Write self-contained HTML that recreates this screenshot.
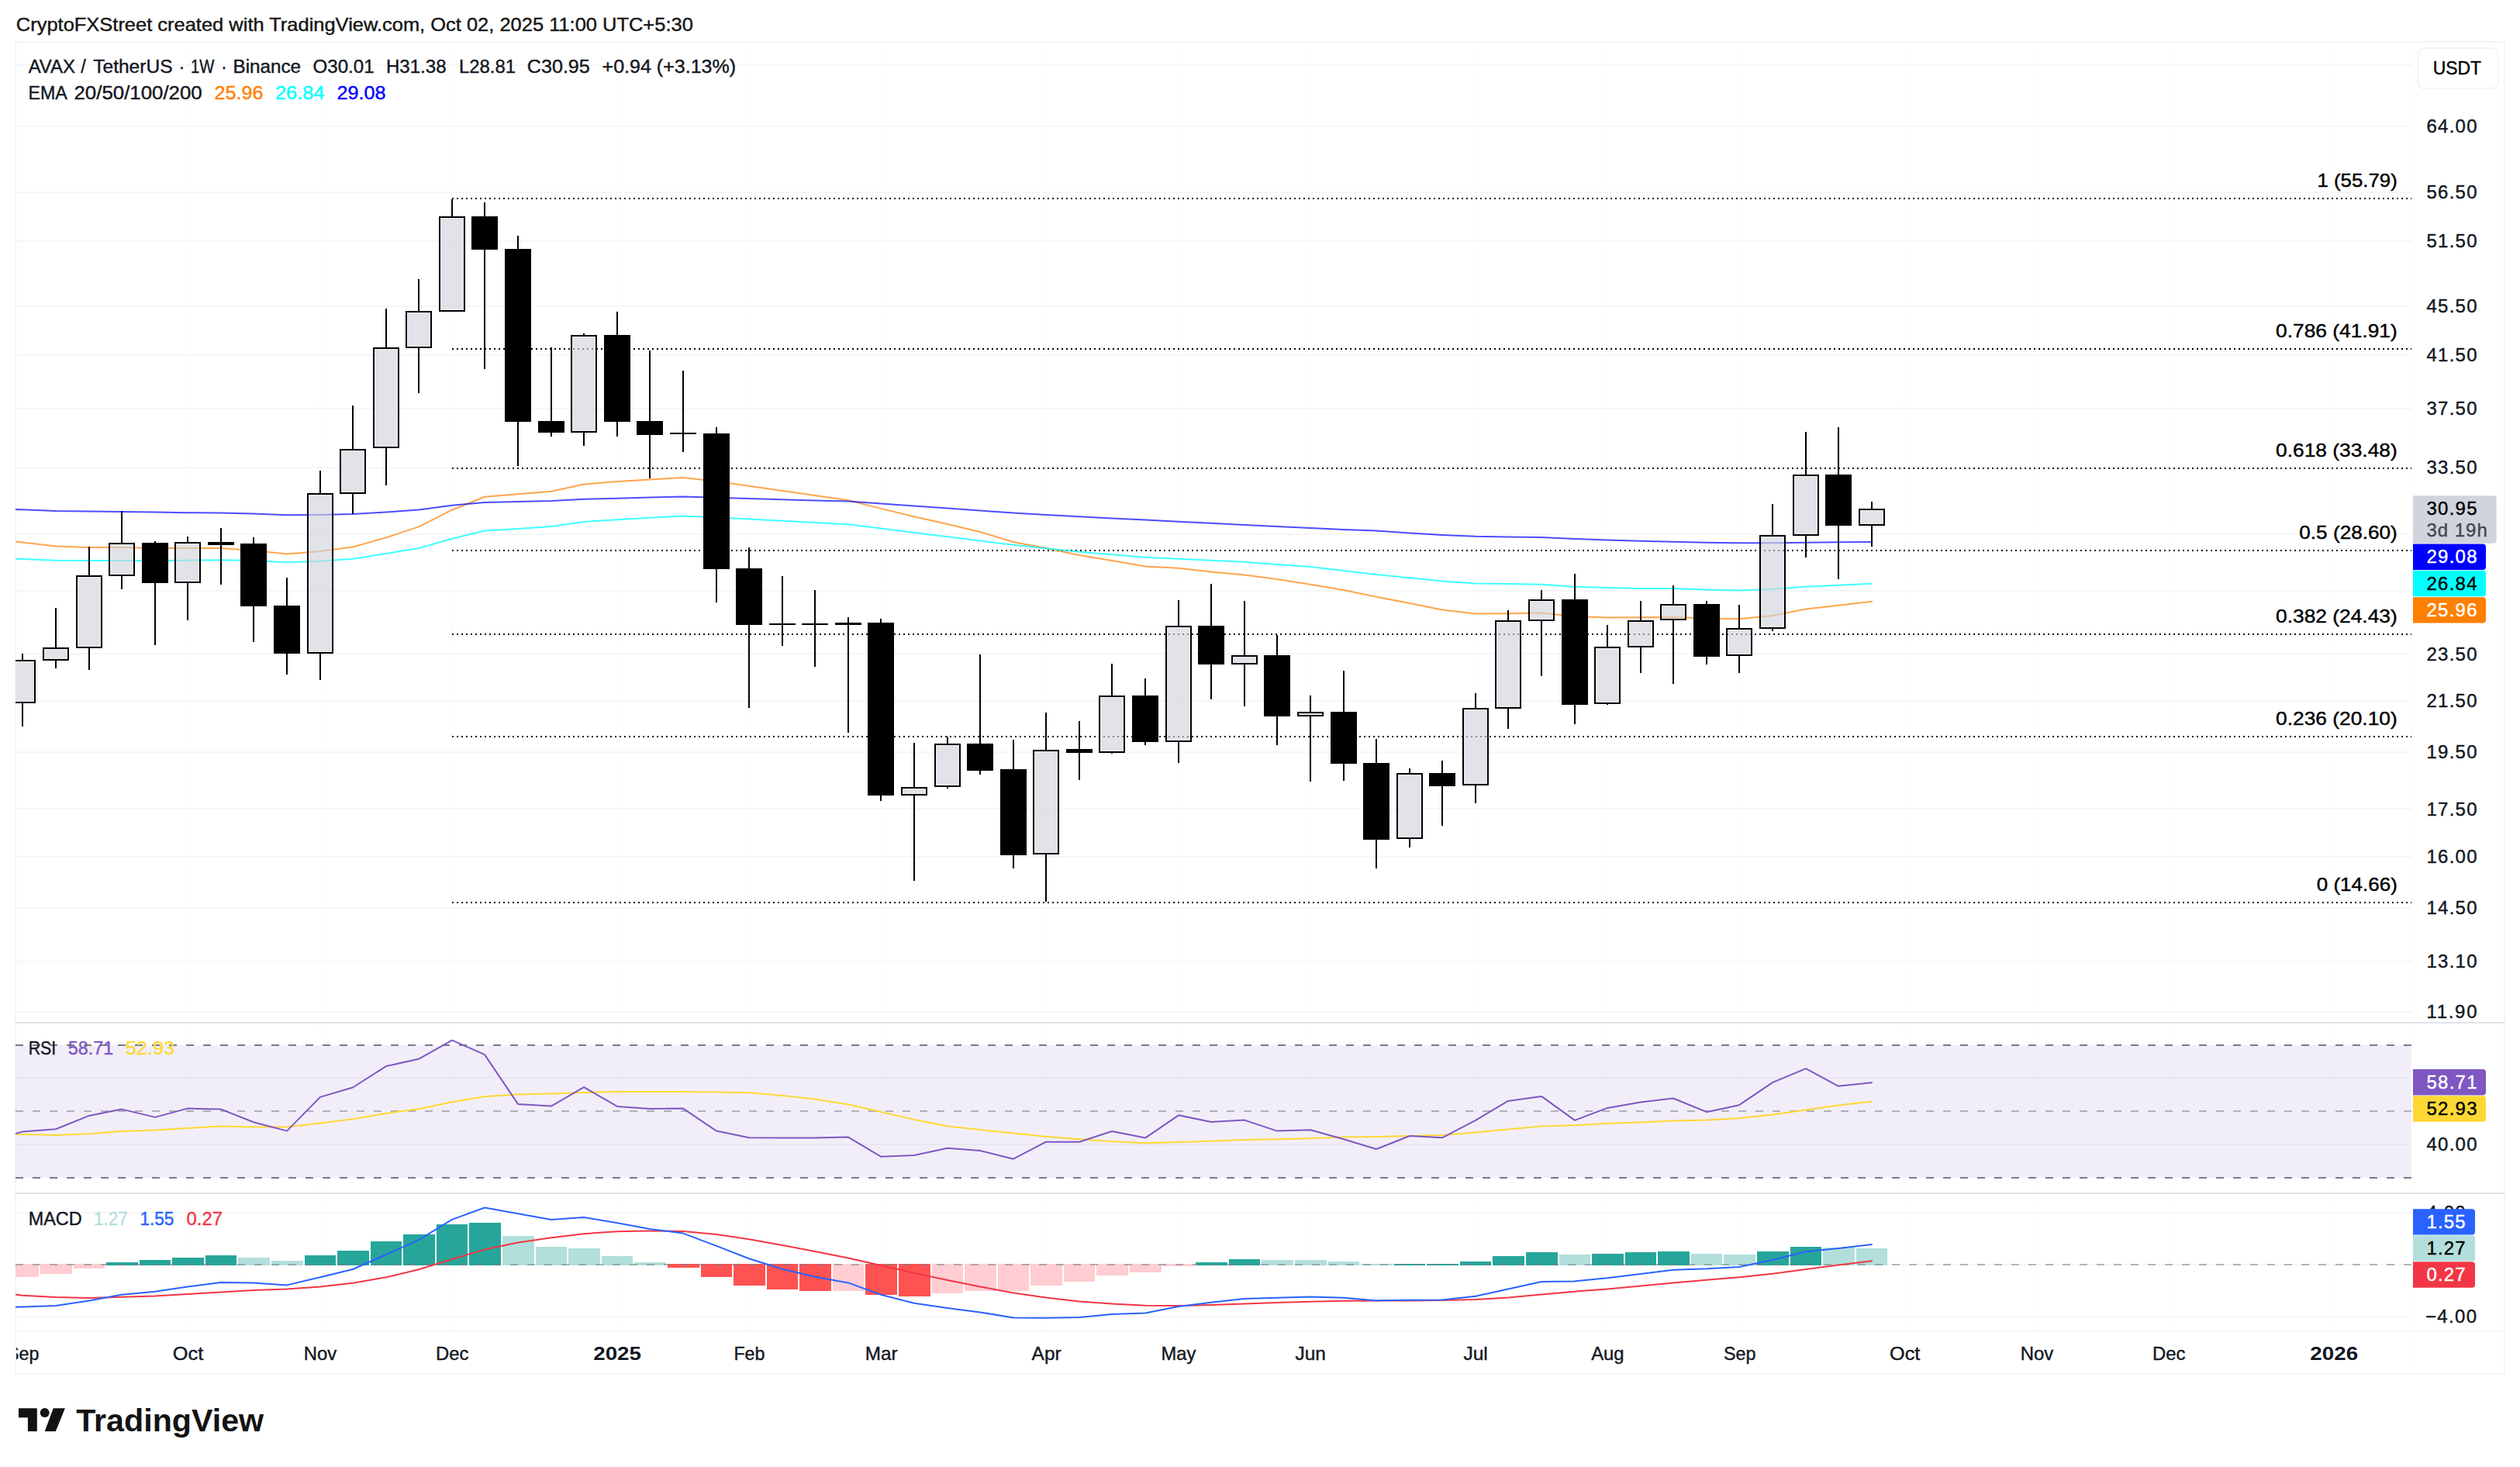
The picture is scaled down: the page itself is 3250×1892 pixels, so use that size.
<!DOCTYPE html>
<html lang="en"><head><meta charset="utf-8"><title>AVAX / TetherUS chart</title>
<style>html,body{margin:0;padding:0;background:#fff}body{width:3250px;height:1892px;overflow:hidden;font-family:"Liberation Sans", Arial, sans-serif}svg{display:block}</style>
</head><body>
<svg width="3250" height="1892" viewBox="0 0 3250 1892" font-family='"Liberation Sans", Arial, sans-serif' shape-rendering="auto">
<rect x="0" y="0" width="3250" height="1892" fill="#ffffff"/>
<text x="20.8" y="40.3" font-size="24" textLength="873" lengthAdjust="spacingAndGlyphs" fill="#151515" stroke="#151515" stroke-width="0.4">CryptoFXStreet created with TradingView.com, Oct 02, 2025 11:00 UTC+5:30</text>
<g fill="rgba(42,46,57,0.045)">
<rect x="20" y="83" width="3090" height="2"/>
<rect x="20" y="162" width="3090" height="2"/>
<rect x="20" y="247" width="3090" height="2"/>
<rect x="20" y="310" width="3090" height="2"/>
<rect x="20" y="394" width="3090" height="2"/>
<rect x="20" y="457" width="3090" height="2"/>
<rect x="20" y="526" width="3090" height="2"/>
<rect x="20" y="602" width="3090" height="2"/>
<rect x="20" y="688" width="3090" height="2"/>
<rect x="20" y="761" width="3090" height="2"/>
<rect x="20" y="842" width="3090" height="2"/>
<rect x="20" y="903" width="3090" height="2"/>
<rect x="20" y="969" width="3090" height="2"/>
<rect x="20" y="1042" width="3090" height="2"/>
<rect x="20" y="1104" width="3090" height="2"/>
<rect x="20" y="1170" width="3090" height="2"/>
<rect x="20" y="1239" width="3090" height="2"/>
<rect x="20" y="1304" width="3090" height="2"/>
<rect x="20" y="1389" width="3090" height="2"/>
<rect x="20" y="1475" width="3090" height="2"/>
<rect x="20" y="1563" width="3090" height="2"/>
<rect x="20" y="1630" width="3090" height="2"/>
<rect x="20" y="1697" width="3090" height="2"/>
<rect x="20" y="1716" width="3210" height="2"/>
</g>
<g fill="rgba(42,46,57,0.013)">
<rect x="28" y="54" width="2" height="1663"/>
<rect x="241" y="54" width="2" height="1663"/>
<rect x="412" y="54" width="2" height="1663"/>
<rect x="582" y="54" width="2" height="1663"/>
<rect x="795" y="54" width="2" height="1663"/>
<rect x="965" y="54" width="2" height="1663"/>
<rect x="1135" y="54" width="2" height="1663"/>
<rect x="1348" y="54" width="2" height="1663"/>
<rect x="1519" y="54" width="2" height="1663"/>
<rect x="1689" y="54" width="2" height="1663"/>
<rect x="1902" y="54" width="2" height="1663"/>
<rect x="2072" y="54" width="2" height="1663"/>
<rect x="2242" y="54" width="2" height="1663"/>
<rect x="2455" y="54" width="2" height="1663"/>
<rect x="2626" y="54" width="2" height="1663"/>
<rect x="2796" y="54" width="2" height="1663"/>
<rect x="3009" y="54" width="2" height="1663"/>
<rect x="3110" y="54" width="2" height="1718"/>
</g>
<rect x="20" y="54" width="3210" height="1718" fill="none" stroke="#f5f5f6" stroke-width="2"/>
<rect x="20" y="1348" width="3090" height="171" fill="rgb(126,87,194)" fill-opacity="0.1"/>
<g stroke="#e0e3eb" stroke-width="2"><line x1="20" y1="1319" x2="3230" y2="1319"/><line x1="20" y1="1539" x2="3230" y2="1539"/></g>
<clipPath id="cp"><rect x="20" y="54" width="3091" height="1718"/></clipPath>
<g clip-path="url(#cp)">
<g stroke-width="2" stroke-dasharray="10 12" fill="none">
<line x1="20" y1="1348" x2="3110" y2="1348" stroke="#787b86"/>
<line x1="20" y1="1433" x2="3110" y2="1433" stroke="#787b86" stroke-opacity="0.55"/>
<line x1="20" y1="1519" x2="3110" y2="1519" stroke="#787b86"/>
</g>
<g stroke="#000" stroke-width="2" stroke-dasharray="2 4">
<line x1="583" y1="256.0" x2="3110" y2="256.0"/>
<line x1="583" y1="450.0" x2="3110" y2="450.0"/>
<line x1="583" y1="604.0" x2="3110" y2="604.0"/>
<line x1="583" y1="710.0" x2="3110" y2="710.0"/>
<line x1="583" y1="818.0" x2="3110" y2="818.0"/>
<line x1="583" y1="950.0" x2="3110" y2="950.0"/>
<line x1="583" y1="1164.0" x2="3110" y2="1164.0"/>
</g>
<rect x="9" y="1630" width="41" height="17" fill="#ffcdd2"/>
<rect x="52" y="1630" width="41" height="13" fill="#ffcdd2"/>
<rect x="95" y="1630" width="40" height="6" fill="#ffcdd2"/>
<rect x="137" y="1628" width="41" height="4" fill="#26a69a"/>
<rect x="180" y="1625" width="40" height="7" fill="#26a69a"/>
<rect x="222" y="1622" width="41" height="10" fill="#26a69a"/>
<rect x="265" y="1619" width="40" height="13" fill="#26a69a"/>
<rect x="307" y="1622" width="41" height="10" fill="#b2dfdb"/>
<rect x="350" y="1626" width="41" height="6" fill="#b2dfdb"/>
<rect x="393" y="1619" width="40" height="13" fill="#26a69a"/>
<rect x="435" y="1613" width="41" height="19" fill="#26a69a"/>
<rect x="478" y="1601" width="40" height="31" fill="#26a69a"/>
<rect x="520" y="1592" width="41" height="40" fill="#26a69a"/>
<rect x="563" y="1579" width="40" height="53" fill="#26a69a"/>
<rect x="605" y="1577" width="41" height="55" fill="#26a69a"/>
<rect x="648" y="1594" width="41" height="38" fill="#b2dfdb"/>
<rect x="691" y="1608" width="40" height="24" fill="#b2dfdb"/>
<rect x="733" y="1610" width="41" height="22" fill="#b2dfdb"/>
<rect x="776" y="1620" width="40" height="12" fill="#b2dfdb"/>
<rect x="818" y="1628" width="41" height="4" fill="#b2dfdb"/>
<rect x="861" y="1630" width="41" height="5" fill="#ff5252"/>
<rect x="904" y="1630" width="40" height="17" fill="#ff5252"/>
<rect x="946" y="1630" width="41" height="28" fill="#ff5252"/>
<rect x="989" y="1630" width="40" height="33" fill="#ff5252"/>
<rect x="1031" y="1630" width="41" height="35" fill="#ff5252"/>
<rect x="1074" y="1630" width="40" height="35" fill="#ffcdd2"/>
<rect x="1116" y="1630" width="41" height="40" fill="#ff5252"/>
<rect x="1159" y="1630" width="41" height="42" fill="#ff5252"/>
<rect x="1202" y="1630" width="40" height="38" fill="#ffcdd2"/>
<rect x="1244" y="1630" width="41" height="35" fill="#ffcdd2"/>
<rect x="1287" y="1630" width="40" height="35" fill="#ffcdd2"/>
<rect x="1329" y="1630" width="41" height="28" fill="#ffcdd2"/>
<rect x="1372" y="1630" width="40" height="23" fill="#ffcdd2"/>
<rect x="1414" y="1630" width="41" height="15" fill="#ffcdd2"/>
<rect x="1457" y="1630" width="41" height="11" fill="#ffcdd2"/>
<rect x="1500" y="1630" width="40" height="3" fill="#ffcdd2"/>
<rect x="1542" y="1628" width="41" height="4" fill="#26a69a"/>
<rect x="1585" y="1624" width="40" height="8" fill="#26a69a"/>
<rect x="1627" y="1625" width="41" height="7" fill="#b2dfdb"/>
<rect x="1670" y="1625" width="41" height="7" fill="#b2dfdb"/>
<rect x="1713" y="1627" width="40" height="5" fill="#b2dfdb"/>
<rect x="1755" y="1630" width="41" height="2" fill="#b2dfdb"/>
<rect x="1798" y="1630" width="40" height="2" fill="#26a69a"/>
<rect x="1840" y="1630" width="41" height="2" fill="#26a69a"/>
<rect x="1883" y="1627" width="40" height="5" fill="#26a69a"/>
<rect x="1925" y="1620" width="41" height="12" fill="#26a69a"/>
<rect x="1968" y="1615" width="41" height="17" fill="#26a69a"/>
<rect x="2011" y="1618" width="40" height="14" fill="#b2dfdb"/>
<rect x="2053" y="1617" width="41" height="15" fill="#26a69a"/>
<rect x="2096" y="1615" width="40" height="17" fill="#26a69a"/>
<rect x="2138" y="1614" width="41" height="18" fill="#26a69a"/>
<rect x="2181" y="1617" width="40" height="15" fill="#b2dfdb"/>
<rect x="2223" y="1618" width="41" height="14" fill="#b2dfdb"/>
<rect x="2266" y="1614" width="41" height="18" fill="#26a69a"/>
<rect x="2309" y="1608" width="40" height="24" fill="#26a69a"/>
<rect x="2351" y="1609" width="41" height="23" fill="#b2dfdb"/>
<rect x="2394" y="1610" width="40" height="22" fill="#b2dfdb"/>
<line x1="20" y1="1631" x2="3110" y2="1631" stroke="#787b86" stroke-opacity="0.55" stroke-width="2" stroke-dasharray="10 12"/>
<polyline points="20,698.6 29,699.6 72,704.6 115,706.0 157,706.0 200,707.0 242,707.0 285,707.0 327,710.0 370,714.6 413,711.0 455,705.5 498,693.4 540,679.4 583,657.7 625,640.8 668,637.3 711,633.8 753,624.6 796,621.1 838,618.6 881,616.1 924,620.7 966,626.8 1009,633.0 1051,639.0 1094,645.2 1136,655.9 1179,666.3 1222,675.9 1264,686.0 1307,699.0 1349,707.0 1392,716.0 1434,723.0 1477,730.4 1520,732.7 1562,737.4 1605,741.4 1647,747.1 1690,753.8 1733,761.0 1775,769.8 1818,778.0 1860,786.5 1903,791.5 1945,791.2 1988,790.5 2031,794.9 2073,796.5 2116,796.2 2158,795.9 2201,797.5 2243,798.2 2286,793.9 2329,785.5 2371,780.8 2414,775.8" fill="none" stroke="#ff7f00" stroke-opacity="0.7" stroke-width="2" stroke-linejoin="round" stroke-linecap="round"/>
<polyline points="20,720.7 29,721.0 72,722.7 115,723.0 157,723.0 200,723.0 242,722.7 285,722.3 327,723.0 370,725.3 413,723.7 455,720.7 498,714.0 540,707.0 583,694.7 625,684.5 668,681.9 711,678.9 753,672.9 796,670.2 838,667.7 881,665.5 924,667.2 966,669.5 1009,671.7 1051,674.0 1094,676.3 1136,681.6 1179,687.0 1222,692.2 1264,697.4 1307,702.7 1349,707.2 1392,711.7 1434,715.2 1477,718.7 1520,720.7 1562,722.7 1605,724.7 1647,728.0 1690,731.0 1733,736.0 1775,741.0 1818,745.2 1860,749.4 1903,752.4 1945,753.1 1988,753.8 2031,756.8 2073,757.9 2116,759.0 2158,759.0 2201,760.5 2243,761.5 2286,759.8 2329,756.8 2371,754.8 2414,752.8" fill="none" stroke="#00ffff" stroke-opacity="0.75" stroke-width="2" stroke-linejoin="round" stroke-linecap="round"/>
<polyline points="20,656.9 29,657.2 72,658.9 115,659.5 157,659.9 200,660.5 242,661.2 285,661.5 327,662.5 370,664.2 413,663.9 455,662.9 498,660.5 540,657.5 583,651.7 625,648.0 668,647.0 711,646.0 753,643.8 796,642.8 838,641.5 881,640.5 924,641.8 966,643.0 1009,644.3 1051,645.5 1094,646.5 1136,649.5 1179,652.5 1222,655.5 1264,658.5 1307,661.6 1349,664.0 1392,666.3 1434,668.5 1477,670.6 1520,672.7 1562,674.8 1605,676.9 1647,679.0 1690,681.0 1733,683.0 1775,684.6 1818,687.5 1860,690.0 1903,691.7 1945,692.4 1988,693.0 2031,695.0 2073,696.4 2116,697.7 2158,698.7 2201,699.7 2243,700.3 2286,700.3 2329,699.7 2371,699.3 2414,699.0" fill="none" stroke="#0000ff" stroke-opacity="0.7" stroke-width="2" stroke-linejoin="round" stroke-linecap="round"/>
<rect x="28" y="843" width="2" height="8" fill="#000"/>
<rect x="28" y="907" width="2" height="30" fill="#000"/>
<rect x="13" y="852" width="32" height="54" fill="rgb(209,212,220)" fill-opacity="0.3" stroke="#000" stroke-width="2"/>
<rect x="14.5" y="853.5" width="29" height="51" fill="rgb(209,212,220)" fill-opacity="0.5"/>
<rect x="71" y="784" width="2" height="51" fill="#000"/>
<rect x="71" y="852" width="2" height="10" fill="#000"/>
<rect x="56" y="836" width="32" height="15" fill="rgb(209,212,220)" fill-opacity="0.3" stroke="#000" stroke-width="2"/>
<rect x="57.5" y="837.5" width="29" height="12" fill="rgb(209,212,220)" fill-opacity="0.5"/>
<rect x="114" y="705" width="2" height="37" fill="#000"/>
<rect x="114" y="836" width="2" height="28" fill="#000"/>
<rect x="99" y="743" width="32" height="92" fill="rgb(209,212,220)" fill-opacity="0.3" stroke="#000" stroke-width="2"/>
<rect x="100.5" y="744.5" width="29" height="89" fill="rgb(209,212,220)" fill-opacity="0.5"/>
<rect x="156" y="659" width="2" height="41" fill="#000"/>
<rect x="156" y="743" width="2" height="17" fill="#000"/>
<rect x="141" y="701" width="32" height="41" fill="rgb(209,212,220)" fill-opacity="0.3" stroke="#000" stroke-width="2"/>
<rect x="142.5" y="702.5" width="29" height="38" fill="rgb(209,212,220)" fill-opacity="0.5"/>
<rect x="199" y="698" width="2" height="134" fill="#000"/>
<rect x="183" y="700" width="34" height="52" fill="#000"/>
<rect x="241" y="692" width="2" height="7" fill="#000"/>
<rect x="241" y="752" width="2" height="48" fill="#000"/>
<rect x="226" y="700" width="32" height="51" fill="rgb(209,212,220)" fill-opacity="0.3" stroke="#000" stroke-width="2"/>
<rect x="227.5" y="701.5" width="29" height="48" fill="rgb(209,212,220)" fill-opacity="0.5"/>
<rect x="284" y="681" width="2" height="73" fill="#000"/>
<rect x="268" y="699" width="34" height="4" fill="#000"/>
<rect x="326" y="693" width="2" height="135" fill="#000"/>
<rect x="310" y="701" width="34" height="81" fill="#000"/>
<rect x="369" y="745" width="2" height="125" fill="#000"/>
<rect x="353" y="781" width="34" height="62" fill="#000"/>
<rect x="412" y="607" width="2" height="29" fill="#000"/>
<rect x="412" y="843" width="2" height="34" fill="#000"/>
<rect x="397" y="637" width="32" height="205" fill="rgb(209,212,220)" fill-opacity="0.3" stroke="#000" stroke-width="2"/>
<rect x="398.5" y="638.5" width="29" height="202" fill="rgb(209,212,220)" fill-opacity="0.5"/>
<rect x="454" y="523" width="2" height="56" fill="#000"/>
<rect x="454" y="637" width="2" height="26" fill="#000"/>
<rect x="439" y="580" width="32" height="56" fill="rgb(209,212,220)" fill-opacity="0.3" stroke="#000" stroke-width="2"/>
<rect x="440.5" y="581.5" width="29" height="53" fill="rgb(209,212,220)" fill-opacity="0.5"/>
<rect x="497" y="398" width="2" height="50" fill="#000"/>
<rect x="497" y="578" width="2" height="48" fill="#000"/>
<rect x="482" y="449" width="32" height="128" fill="rgb(209,212,220)" fill-opacity="0.3" stroke="#000" stroke-width="2"/>
<rect x="483.5" y="450.5" width="29" height="125" fill="rgb(209,212,220)" fill-opacity="0.5"/>
<rect x="539" y="360" width="2" height="41" fill="#000"/>
<rect x="539" y="449" width="2" height="58" fill="#000"/>
<rect x="524" y="402" width="32" height="46" fill="rgb(209,212,220)" fill-opacity="0.3" stroke="#000" stroke-width="2"/>
<rect x="525.5" y="403.5" width="29" height="43" fill="rgb(209,212,220)" fill-opacity="0.5"/>
<rect x="582" y="257" width="2" height="22" fill="#000"/>
<rect x="582" y="402" width="2" height="0" fill="#000"/>
<rect x="567" y="280" width="32" height="121" fill="rgb(209,212,220)" fill-opacity="0.3" stroke="#000" stroke-width="2"/>
<rect x="568.5" y="281.5" width="29" height="118" fill="rgb(209,212,220)" fill-opacity="0.5"/>
<rect x="624" y="261" width="2" height="215" fill="#000"/>
<rect x="608" y="279" width="34" height="43" fill="#000"/>
<rect x="667" y="304" width="2" height="297" fill="#000"/>
<rect x="651" y="321" width="34" height="223" fill="#000"/>
<rect x="710" y="448" width="2" height="115" fill="#000"/>
<rect x="694" y="543" width="34" height="15" fill="#000"/>
<rect x="752" y="430" width="2" height="2" fill="#000"/>
<rect x="752" y="558" width="2" height="17" fill="#000"/>
<rect x="737" y="433" width="32" height="124" fill="rgb(209,212,220)" fill-opacity="0.3" stroke="#000" stroke-width="2"/>
<rect x="738.5" y="434.5" width="29" height="121" fill="rgb(209,212,220)" fill-opacity="0.5"/>
<rect x="795" y="402" width="2" height="161" fill="#000"/>
<rect x="779" y="432" width="34" height="112" fill="#000"/>
<rect x="837" y="452" width="2" height="165" fill="#000"/>
<rect x="821" y="543" width="34" height="18" fill="#000"/>
<rect x="880" y="478" width="2" height="105" fill="#000"/>
<rect x="864" y="558" width="34" height="2" fill="#000"/>
<rect x="923" y="551" width="2" height="226" fill="#000"/>
<rect x="907" y="559" width="34" height="175" fill="#000"/>
<rect x="965" y="706" width="2" height="207" fill="#000"/>
<rect x="949" y="733" width="34" height="73" fill="#000"/>
<rect x="1008" y="743" width="2" height="90" fill="#000"/>
<rect x="992" y="804" width="34" height="2" fill="#000"/>
<rect x="1050" y="761" width="2" height="99" fill="#000"/>
<rect x="1034" y="804" width="34" height="2" fill="#000"/>
<rect x="1093" y="796" width="2" height="149" fill="#000"/>
<rect x="1077" y="803" width="34" height="3" fill="#000"/>
<rect x="1135" y="798" width="2" height="235" fill="#000"/>
<rect x="1119" y="803" width="34" height="223" fill="#000"/>
<rect x="1178" y="958" width="2" height="57" fill="#000"/>
<rect x="1178" y="1026" width="2" height="110" fill="#000"/>
<rect x="1163" y="1016" width="32" height="9" fill="rgb(209,212,220)" fill-opacity="0.3" stroke="#000" stroke-width="2"/>
<rect x="1164.5" y="1017.5" width="29" height="6" fill="rgb(209,212,220)" fill-opacity="0.5"/>
<rect x="1221" y="950" width="2" height="9" fill="#000"/>
<rect x="1221" y="1015" width="2" height="2" fill="#000"/>
<rect x="1206" y="960" width="32" height="54" fill="rgb(209,212,220)" fill-opacity="0.3" stroke="#000" stroke-width="2"/>
<rect x="1207.5" y="961.5" width="29" height="51" fill="rgb(209,212,220)" fill-opacity="0.5"/>
<rect x="1263" y="844" width="2" height="155" fill="#000"/>
<rect x="1247" y="959" width="34" height="35" fill="#000"/>
<rect x="1306" y="954" width="2" height="166" fill="#000"/>
<rect x="1290" y="992" width="34" height="111" fill="#000"/>
<rect x="1348" y="919" width="2" height="48" fill="#000"/>
<rect x="1348" y="1102" width="2" height="61" fill="#000"/>
<rect x="1333" y="968" width="32" height="133" fill="rgb(209,212,220)" fill-opacity="0.3" stroke="#000" stroke-width="2"/>
<rect x="1334.5" y="969.5" width="29" height="130" fill="rgb(209,212,220)" fill-opacity="0.5"/>
<rect x="1391" y="930" width="2" height="76" fill="#000"/>
<rect x="1375" y="966" width="34" height="5" fill="#000"/>
<rect x="1433" y="856" width="2" height="41" fill="#000"/>
<rect x="1433" y="971" width="2" height="1" fill="#000"/>
<rect x="1418" y="898" width="32" height="72" fill="rgb(209,212,220)" fill-opacity="0.3" stroke="#000" stroke-width="2"/>
<rect x="1419.5" y="899.5" width="29" height="69" fill="rgb(209,212,220)" fill-opacity="0.5"/>
<rect x="1476" y="875" width="2" height="86" fill="#000"/>
<rect x="1460" y="897" width="34" height="60" fill="#000"/>
<rect x="1519" y="774" width="2" height="33" fill="#000"/>
<rect x="1519" y="957" width="2" height="27" fill="#000"/>
<rect x="1504" y="808" width="32" height="148" fill="rgb(209,212,220)" fill-opacity="0.3" stroke="#000" stroke-width="2"/>
<rect x="1505.5" y="809.5" width="29" height="145" fill="rgb(209,212,220)" fill-opacity="0.5"/>
<rect x="1561" y="753" width="2" height="149" fill="#000"/>
<rect x="1545" y="807" width="34" height="50" fill="#000"/>
<rect x="1604" y="775" width="2" height="70" fill="#000"/>
<rect x="1604" y="857" width="2" height="54" fill="#000"/>
<rect x="1589" y="846" width="32" height="10" fill="rgb(209,212,220)" fill-opacity="0.3" stroke="#000" stroke-width="2"/>
<rect x="1590.5" y="847.5" width="29" height="7" fill="rgb(209,212,220)" fill-opacity="0.5"/>
<rect x="1646" y="819" width="2" height="142" fill="#000"/>
<rect x="1630" y="845" width="34" height="79" fill="#000"/>
<rect x="1689" y="897" width="2" height="21" fill="#000"/>
<rect x="1689" y="924" width="2" height="84" fill="#000"/>
<rect x="1674" y="919" width="32" height="4" fill="rgb(209,212,220)" fill-opacity="0.3" stroke="#000" stroke-width="2"/>
<rect x="1675" y="920" width="30" height="2" fill="rgb(209,212,220)" fill-opacity="0.5"/>
<rect x="1732" y="865" width="2" height="142" fill="#000"/>
<rect x="1716" y="918" width="34" height="67" fill="#000"/>
<rect x="1774" y="953" width="2" height="167" fill="#000"/>
<rect x="1758" y="984" width="34" height="99" fill="#000"/>
<rect x="1817" y="991" width="2" height="6" fill="#000"/>
<rect x="1817" y="1082" width="2" height="11" fill="#000"/>
<rect x="1802" y="998" width="32" height="83" fill="rgb(209,212,220)" fill-opacity="0.3" stroke="#000" stroke-width="2"/>
<rect x="1803.5" y="999.5" width="29" height="80" fill="rgb(209,212,220)" fill-opacity="0.5"/>
<rect x="1859" y="981" width="2" height="84" fill="#000"/>
<rect x="1843" y="997" width="34" height="17" fill="#000"/>
<rect x="1902" y="894" width="2" height="19" fill="#000"/>
<rect x="1902" y="1013" width="2" height="23" fill="#000"/>
<rect x="1887" y="914" width="32" height="98" fill="rgb(209,212,220)" fill-opacity="0.3" stroke="#000" stroke-width="2"/>
<rect x="1888.5" y="915.5" width="29" height="95" fill="rgb(209,212,220)" fill-opacity="0.5"/>
<rect x="1944" y="787" width="2" height="13" fill="#000"/>
<rect x="1944" y="914" width="2" height="26" fill="#000"/>
<rect x="1929" y="801" width="32" height="112" fill="rgb(209,212,220)" fill-opacity="0.3" stroke="#000" stroke-width="2"/>
<rect x="1930.5" y="802.5" width="29" height="109" fill="rgb(209,212,220)" fill-opacity="0.5"/>
<rect x="1987" y="761" width="2" height="12" fill="#000"/>
<rect x="1987" y="801" width="2" height="71" fill="#000"/>
<rect x="1972" y="774" width="32" height="26" fill="rgb(209,212,220)" fill-opacity="0.3" stroke="#000" stroke-width="2"/>
<rect x="1973.5" y="775.5" width="29" height="23" fill="rgb(209,212,220)" fill-opacity="0.5"/>
<rect x="2030" y="740" width="2" height="194" fill="#000"/>
<rect x="2014" y="773" width="34" height="136" fill="#000"/>
<rect x="2072" y="806" width="2" height="28" fill="#000"/>
<rect x="2072" y="908" width="2" height="1" fill="#000"/>
<rect x="2057" y="835" width="32" height="72" fill="rgb(209,212,220)" fill-opacity="0.3" stroke="#000" stroke-width="2"/>
<rect x="2058.5" y="836.5" width="29" height="69" fill="rgb(209,212,220)" fill-opacity="0.5"/>
<rect x="2115" y="775" width="2" height="25" fill="#000"/>
<rect x="2115" y="835" width="2" height="33" fill="#000"/>
<rect x="2100" y="801" width="32" height="33" fill="rgb(209,212,220)" fill-opacity="0.3" stroke="#000" stroke-width="2"/>
<rect x="2101.5" y="802.5" width="29" height="30" fill="rgb(209,212,220)" fill-opacity="0.5"/>
<rect x="2157" y="755" width="2" height="24" fill="#000"/>
<rect x="2157" y="800" width="2" height="82" fill="#000"/>
<rect x="2142" y="780" width="32" height="19" fill="rgb(209,212,220)" fill-opacity="0.3" stroke="#000" stroke-width="2"/>
<rect x="2143.5" y="781.5" width="29" height="16" fill="rgb(209,212,220)" fill-opacity="0.5"/>
<rect x="2200" y="775" width="2" height="82" fill="#000"/>
<rect x="2184" y="779" width="34" height="68" fill="#000"/>
<rect x="2242" y="780" width="2" height="30" fill="#000"/>
<rect x="2242" y="846" width="2" height="22" fill="#000"/>
<rect x="2227" y="811" width="32" height="34" fill="rgb(209,212,220)" fill-opacity="0.3" stroke="#000" stroke-width="2"/>
<rect x="2228.5" y="812.5" width="29" height="31" fill="rgb(209,212,220)" fill-opacity="0.5"/>
<rect x="2285" y="650" width="2" height="40" fill="#000"/>
<rect x="2285" y="811" width="2" height="3" fill="#000"/>
<rect x="2270" y="691" width="32" height="119" fill="rgb(209,212,220)" fill-opacity="0.3" stroke="#000" stroke-width="2"/>
<rect x="2271.5" y="692.5" width="29" height="116" fill="rgb(209,212,220)" fill-opacity="0.5"/>
<rect x="2328" y="557" width="2" height="55" fill="#000"/>
<rect x="2328" y="691" width="2" height="28" fill="#000"/>
<rect x="2313" y="613" width="32" height="77" fill="rgb(209,212,220)" fill-opacity="0.3" stroke="#000" stroke-width="2"/>
<rect x="2314.5" y="614.5" width="29" height="74" fill="rgb(209,212,220)" fill-opacity="0.5"/>
<rect x="2370" y="551" width="2" height="196" fill="#000"/>
<rect x="2354" y="612" width="34" height="66" fill="#000"/>
<rect x="2413" y="647" width="2" height="9" fill="#000"/>
<rect x="2413" y="678" width="2" height="27" fill="#000"/>
<rect x="2398" y="657" width="32" height="20" fill="rgb(209,212,220)" fill-opacity="0.3" stroke="#000" stroke-width="2"/>
<rect x="2399.5" y="658.5" width="29" height="17" fill="rgb(209,212,220)" fill-opacity="0.5"/>
<polyline points="20,1462.7 29,1463.0 72,1464.0 115,1462.3 157,1459.0 200,1457.6 242,1455.0 285,1452.6 327,1453.6 370,1453.6 413,1448.6 455,1443.3 498,1435.9 540,1430.2 583,1421.2 625,1414.2 668,1411.5 711,1410.5 753,1408.9 796,1407.9 838,1407.9 881,1407.9 924,1408.5 966,1409.2 1009,1412.9 1051,1417.5 1094,1424.6 1136,1433.9 1179,1443.9 1222,1452.6 1264,1457.0 1307,1461.6 1349,1466.0 1392,1469.3 1434,1472.0 1477,1474.3 1520,1473.0 1562,1471.7 1605,1470.0 1647,1469.3 1690,1468.3 1733,1466.6 1775,1466.0 1818,1465.0 1860,1464.0 1903,1460.6 1945,1456.6 1988,1452.6 2031,1451.3 2073,1448.9 2116,1447.6 2158,1445.6 2201,1444.6 2243,1442.3 2286,1437.6 2329,1431.6 2371,1425.6 2414,1420.6" fill="none" stroke="#fdd835" stroke-opacity="1.0" stroke-width="2" stroke-linejoin="round" stroke-linecap="round"/>
<polyline points="20,1462.0 29,1459.6 72,1456.3 115,1438.9 157,1430.6 200,1440.9 242,1429.6 285,1430.6 327,1447.3 370,1458.6 413,1414.9 455,1402.5 498,1375.1 540,1365.8 583,1341.7 625,1360.1 668,1423.9 711,1426.6 753,1402.2 796,1426.9 838,1429.9 881,1429.6 924,1458.6 966,1467.3 1009,1467.6 1051,1467.6 1094,1466.6 1136,1491.7 1179,1490.0 1222,1480.7 1264,1484.0 1307,1494.7 1349,1472.7 1392,1472.7 1434,1459.0 1477,1467.6 1520,1438.3 1562,1446.9 1605,1444.6 1647,1458.6 1690,1457.3 1733,1469.3 1775,1482.0 1818,1465.0 1860,1467.3 1903,1444.9 1945,1419.9 1988,1413.9 2031,1444.9 2073,1428.9 2116,1421.6 2158,1416.5 2201,1434.2 2243,1425.2 2286,1396.2 2329,1378.1 2371,1400.8 2414,1396.2" fill="none" stroke="#7e57c2" stroke-opacity="1.0" stroke-width="2" stroke-linejoin="round" stroke-linecap="round"/>
<polyline points="20,1669.4 29,1670.7 72,1673.0 115,1674.0 157,1672.7 200,1671.4 242,1669.0 285,1666.4 327,1664.0 370,1662.4 413,1659.4 455,1654.7 498,1647.3 540,1637.3 583,1624.0 625,1611.6 668,1602.6 711,1596.2 753,1591.2 796,1588.2 838,1587.6 881,1587.9 924,1591.9 966,1598.2 1009,1605.9 1051,1613.9 1094,1622.6 1136,1632.0 1179,1641.7 1222,1651.0 1264,1659.4 1307,1667.4 1349,1673.4 1392,1678.4 1434,1681.4 1477,1683.7 1520,1684.0 1562,1683.0 1605,1681.4 1647,1680.0 1690,1678.7 1733,1677.7 1775,1677.4 1818,1677.4 1860,1677.0 1903,1676.0 1945,1673.4 1988,1669.4 2031,1665.7 2073,1662.4 2116,1658.4 2158,1654.4 2201,1650.7 2243,1647.3 2286,1642.7 2329,1637.0 2371,1631.6 2414,1626.3" fill="none" stroke="#f23645" stroke-opacity="1.0" stroke-width="2" stroke-linejoin="round" stroke-linecap="round"/>
<polyline points="20,1685.7 29,1685.4 72,1684.0 115,1677.4 157,1669.7 200,1665.7 242,1659.4 285,1654.0 327,1654.4 370,1657.4 413,1647.3 455,1637.0 498,1618.0 540,1599.2 583,1572.9 625,1557.5 668,1565.2 711,1572.9 753,1569.9 796,1577.2 838,1584.9 881,1590.6 924,1606.9 966,1623.3 1009,1636.7 1051,1646.7 1094,1654.4 1136,1669.7 1179,1680.7 1222,1687.0 1264,1692.4 1307,1699.4 1349,1699.8 1392,1699.0 1434,1695.0 1477,1693.4 1520,1685.0 1562,1679.7 1605,1675.0 1647,1673.7 1690,1672.4 1733,1673.7 1775,1677.4 1818,1676.7 1860,1676.4 1903,1671.7 1945,1662.4 1988,1653.0 2031,1652.4 2073,1648.3 2116,1643.0 2158,1637.7 2201,1636.3 2243,1634.0 2286,1625.0 2329,1614.3 2371,1610.0 2414,1605.0" fill="none" stroke="#2962ff" stroke-opacity="1.0" stroke-width="2" stroke-linejoin="round" stroke-linecap="round"/>
</g>
<text x="3091.8" y="241.0" font-size="24" text-anchor="end" textLength="103.3" lengthAdjust="spacingAndGlyphs" fill="#000" stroke="#000" stroke-width="0.4">1 (55.79)</text>
<text x="3091.8" y="435.0" font-size="24" text-anchor="end" textLength="156.8" lengthAdjust="spacingAndGlyphs" fill="#000" stroke="#000" stroke-width="0.4">0.786 (41.91)</text>
<text x="3091.8" y="589.0" font-size="24" text-anchor="end" textLength="156.8" lengthAdjust="spacingAndGlyphs" fill="#000" stroke="#000" stroke-width="0.4">0.618 (33.48)</text>
<text x="3091.8" y="695.0" font-size="24" text-anchor="end" textLength="126.5" lengthAdjust="spacingAndGlyphs" fill="#000" stroke="#000" stroke-width="0.4">0.5 (28.60)</text>
<text x="3091.8" y="803.0" font-size="24" text-anchor="end" textLength="156.8" lengthAdjust="spacingAndGlyphs" fill="#000" stroke="#000" stroke-width="0.4">0.382 (24.43)</text>
<text x="3091.8" y="935.0" font-size="24" text-anchor="end" textLength="156.8" lengthAdjust="spacingAndGlyphs" fill="#000" stroke="#000" stroke-width="0.4">0.236 (20.10)</text>
<text x="3091.8" y="1149.0" font-size="24" text-anchor="end" textLength="104.0" lengthAdjust="spacingAndGlyphs" fill="#000" stroke="#000" stroke-width="0.4">0 (14.66)</text>
<text x="36.7" y="93.7" font-size="23.5" textLength="60.3" lengthAdjust="spacingAndGlyphs" fill="#131722" stroke="#131722" stroke-width="0.4">AVAX</text>
<text x="107.6" y="93.7" font-size="23.5" text-anchor="middle" fill="#131722" stroke="#131722" stroke-width="0.4">/</text>
<text x="120.2" y="93.7" font-size="23.5" textLength="102.4" lengthAdjust="spacingAndGlyphs" fill="#131722" stroke="#131722" stroke-width="0.4">TetherUS</text>
<text x="234.3" y="93.7" font-size="23.5" text-anchor="middle" fill="#131722" stroke="#131722" stroke-width="0.4">·</text>
<text x="246.0" y="93.7" font-size="23.5" textLength="30.3" lengthAdjust="spacingAndGlyphs" fill="#131722" stroke="#131722" stroke-width="0.4">1W</text>
<text x="288.9" y="93.7" font-size="23.5" text-anchor="middle" fill="#131722" stroke="#131722" stroke-width="0.4">·</text>
<text x="300.5" y="93.7" font-size="23.5" textLength="87.5" lengthAdjust="spacingAndGlyphs" fill="#131722" stroke="#131722" stroke-width="0.4">Binance</text>
<text x="403.6" y="93.7" font-size="23.5" textLength="79" lengthAdjust="spacingAndGlyphs" fill="#131722" stroke="#131722" stroke-width="0.4">O30.01</text>
<text x="498.0" y="93.7" font-size="23.5" textLength="77.5" lengthAdjust="spacingAndGlyphs" fill="#131722" stroke="#131722" stroke-width="0.4">H31.38</text>
<text x="592.0" y="93.7" font-size="23.5" textLength="73" lengthAdjust="spacingAndGlyphs" fill="#131722" stroke="#131722" stroke-width="0.4">L28.81</text>
<text x="679.8" y="93.7" font-size="23.5" textLength="81" lengthAdjust="spacingAndGlyphs" fill="#131722" stroke="#131722" stroke-width="0.4">C30.95</text>
<text x="776.6" y="93.7" font-size="23.5" textLength="172.5" lengthAdjust="spacingAndGlyphs" fill="#131722" stroke="#131722" stroke-width="0.4">+0.94 (+3.13%)</text>
<text x="36.5" y="127.9" font-size="23.5" textLength="50.3" lengthAdjust="spacingAndGlyphs" fill="#131722" stroke="#131722" stroke-width="0.4">EMA</text>
<text x="95.5" y="127.9" font-size="23.5" textLength="165.2" lengthAdjust="spacingAndGlyphs" fill="#131722" stroke="#131722" stroke-width="0.4">20/50/100/200</text>
<text x="276.6" y="127.9" font-size="23.5" textLength="63" lengthAdjust="spacingAndGlyphs" fill="#ff7f00" stroke="#ff7f00" stroke-width="0.4">25.96</text>
<text x="355.0" y="127.9" font-size="23.5" textLength="63.5" lengthAdjust="spacingAndGlyphs" fill="#00ffff" stroke="#00ffff" stroke-width="0.4">26.84</text>
<text x="434.5" y="127.9" font-size="23.5" textLength="63" lengthAdjust="spacingAndGlyphs" fill="#0000ff" stroke="#0000ff" stroke-width="0.4">29.08</text>
<text x="36.7" y="1360.3" font-size="23.5" textLength="35.5" lengthAdjust="spacingAndGlyphs" fill="#131722" stroke="#131722" stroke-width="0.4">RSI</text>
<text x="87.8" y="1360.3" font-size="23.5" textLength="58.5" lengthAdjust="spacingAndGlyphs" fill="#7e57c2" stroke="#7e57c2" stroke-width="0.4">58.71</text>
<text x="161.7" y="1360.3" font-size="23.5" textLength="63.5" lengthAdjust="spacingAndGlyphs" fill="#fdd835" stroke="#fdd835" stroke-width="0.4">52.93</text>
<text x="36.7" y="1580.0" font-size="23.5" textLength="69" lengthAdjust="spacingAndGlyphs" fill="#131722" stroke="#131722" stroke-width="0.4">MACD</text>
<text x="120.9" y="1580.0" font-size="23.5" textLength="44" lengthAdjust="spacingAndGlyphs" fill="#b2dfdb" stroke="#b2dfdb" stroke-width="0.4">1.27</text>
<text x="180.4" y="1580.0" font-size="23.5" textLength="44" lengthAdjust="spacingAndGlyphs" fill="#2962ff" stroke="#2962ff" stroke-width="0.4">1.55</text>
<text x="240.5" y="1580.0" font-size="23.5" textLength="46.5" lengthAdjust="spacingAndGlyphs" fill="#f23645" stroke="#f23645" stroke-width="0.4">0.27</text>
<text x="3129.5" y="171.2" font-size="24" textLength="65" lengthAdjust="spacing" fill="#131722" stroke="#131722" stroke-width="0.4">64.00</text>
<text x="3129.5" y="256.2" font-size="24" textLength="65" lengthAdjust="spacing" fill="#131722" stroke="#131722" stroke-width="0.4">56.50</text>
<text x="3129.5" y="319.2" font-size="24" textLength="65" lengthAdjust="spacing" fill="#131722" stroke="#131722" stroke-width="0.4">51.50</text>
<text x="3129.5" y="403.3" font-size="24" textLength="65" lengthAdjust="spacing" fill="#131722" stroke="#131722" stroke-width="0.4">45.50</text>
<text x="3129.5" y="466.1" font-size="24" textLength="65" lengthAdjust="spacing" fill="#131722" stroke="#131722" stroke-width="0.4">41.50</text>
<text x="3129.5" y="535.4" font-size="24" textLength="65" lengthAdjust="spacing" fill="#131722" stroke="#131722" stroke-width="0.4">37.50</text>
<text x="3129.5" y="611.3" font-size="24" textLength="65" lengthAdjust="spacing" fill="#131722" stroke="#131722" stroke-width="0.4">33.50</text>
<text x="3129.5" y="852.0" font-size="24" textLength="65" lengthAdjust="spacing" fill="#131722" stroke="#131722" stroke-width="0.4">23.50</text>
<text x="3129.5" y="912.0" font-size="24" textLength="65" lengthAdjust="spacing" fill="#131722" stroke="#131722" stroke-width="0.4">21.50</text>
<text x="3129.5" y="977.9" font-size="24" textLength="65" lengthAdjust="spacing" fill="#131722" stroke="#131722" stroke-width="0.4">19.50</text>
<text x="3129.5" y="1052.0" font-size="24" textLength="65" lengthAdjust="spacing" fill="#131722" stroke="#131722" stroke-width="0.4">17.50</text>
<text x="3129.5" y="1113.2" font-size="24" textLength="65" lengthAdjust="spacing" fill="#131722" stroke="#131722" stroke-width="0.4">16.00</text>
<text x="3129.5" y="1178.9" font-size="24" textLength="65" lengthAdjust="spacing" fill="#131722" stroke="#131722" stroke-width="0.4">14.50</text>
<text x="3129.5" y="1247.9" font-size="24" textLength="65" lengthAdjust="spacing" fill="#131722" stroke="#131722" stroke-width="0.4">13.10</text>
<text x="3129.5" y="1312.7" font-size="24" textLength="65" lengthAdjust="spacing" fill="#131722" stroke="#131722" stroke-width="0.4">11.90</text>
<text x="3129.5" y="1484.2" font-size="24" textLength="65" lengthAdjust="spacing" fill="#131722" stroke="#131722" stroke-width="0.4">40.00</text>
<text x="3129.5" y="1572.2" font-size="24" textLength="50" lengthAdjust="spacing" fill="#131722" stroke="#131722" stroke-width="0.4">4.00</text>
<text x="3194.0" y="1706.2" font-size="24" text-anchor="end" textLength="66" lengthAdjust="spacing" fill="#131722" stroke="#131722" stroke-width="0.4">−4.00</text>
<path d="M3112 639.3 H3215.6 Q3219.6 639.3 3219.6 643.3 V696.7 Q3219.6 700.7 3215.6 700.7 H3112 Z" fill="#d1d4dc"/>
<text x="3129.5" y="663.9" font-size="24" textLength="65" lengthAdjust="spacing" fill="#000" stroke="#000" stroke-width="0.4">30.95</text>
<text x="3129.5" y="691.5" font-size="24" textLength="78.3" lengthAdjust="spacing" fill="#434651" stroke="#434651" stroke-width="0.4">3d 19h</text>
<path d="M3112 701.4 H3202 Q3206 701.4 3206 705.4 V731 Q3206 735 3202 735 H3112 Z" fill="#0000ff"/>
<text x="3129.5" y="725.9" font-size="24" textLength="65" lengthAdjust="spacing" fill="#fff" stroke="#fff" stroke-width="0.4">29.08</text>
<path d="M3112 735.8 H3202 Q3206 735.8 3206 739.8 V765.2 Q3206 769.2 3202 769.2 H3112 Z" fill="#00ffff"/>
<text x="3129.5" y="760.7" font-size="24" textLength="65" lengthAdjust="spacing" fill="#000" stroke="#000" stroke-width="0.4">26.84</text>
<path d="M3112 770.2 H3202 Q3206 770.2 3206 774.2 V799.6 Q3206 803.6 3202 803.6 H3112 Z" fill="#ff7f00"/>
<text x="3129.5" y="794.8" font-size="24" textLength="65" lengthAdjust="spacing" fill="#fff" stroke="#fff" stroke-width="0.4">25.96</text>
<path d="M3112 1379 H3202 Q3206 1379 3206 1383 V1408.6 Q3206 1412.6 3202 1412.6 H3112 Z" fill="#7e57c2"/>
<text x="3129.5" y="1403.7" font-size="24" textLength="65" lengthAdjust="spacing" fill="#fff" stroke="#fff" stroke-width="0.4">58.71</text>
<path d="M3112 1413.3 H3202 Q3206 1413.3 3206 1417.3 V1442.8 Q3206 1446.8 3202 1446.8 H3112 Z" fill="#fdd835"/>
<text x="3129.5" y="1438.2" font-size="24" textLength="65" lengthAdjust="spacing" fill="#000" stroke="#000" stroke-width="0.4">52.93</text>
<path d="M3112 1559.2 H3188 Q3192 1559.2 3192 1563.2 V1588.6 Q3192 1592.6 3188 1592.6 H3112 Z" fill="#2962ff"/>
<text x="3129.5" y="1583.9" font-size="24" textLength="50" lengthAdjust="spacing" fill="#fff" stroke="#fff" stroke-width="0.4">1.55</text>
<path d="M3112 1593.2 H3188 Q3192 1593.2 3192 1597.2 V1622.6 Q3192 1626.6 3188 1626.6 H3112 Z" fill="#b2dfdb"/>
<text x="3129.5" y="1617.9" font-size="24" textLength="50" lengthAdjust="spacing" fill="#000" stroke="#000" stroke-width="0.4">1.27</text>
<path d="M3112 1627.3 H3188 Q3192 1627.3 3192 1631.3 V1656.7 Q3192 1660.7 3188 1660.7 H3112 Z" fill="#f23645"/>
<text x="3129.5" y="1651.9" font-size="24" textLength="50" lengthAdjust="spacing" fill="#fff" stroke="#fff" stroke-width="0.4">0.27</text>
<rect x="3118.3" y="62.2" width="103.8" height="51.9" rx="8" ry="8" fill="#fff" stroke="#f3f3f5" stroke-width="1.8"/>
<text x="3137.7" y="95.9" font-size="24" textLength="62.4" lengthAdjust="spacingAndGlyphs" fill="#000" stroke="#000" stroke-width="0.4">USDT</text>
<clipPath id="ct"><rect x="21" y="1717" width="3208" height="55"/></clipPath>
<g clip-path="url(#ct)">
<text x="29.7" y="1753.8" font-size="24" text-anchor="middle" textLength="41.4" lengthAdjust="spacingAndGlyphs" fill="#131722" stroke="#131722" stroke-width="0.4">Sep</text>
<text x="242.5" y="1753.8" font-size="24" text-anchor="middle" textLength="39.4" lengthAdjust="spacingAndGlyphs" fill="#131722" stroke="#131722" stroke-width="0.4">Oct</text>
<text x="412.9" y="1753.8" font-size="24" text-anchor="middle" textLength="42.4" lengthAdjust="spacingAndGlyphs" fill="#131722" stroke="#131722" stroke-width="0.4">Nov</text>
<text x="583.2" y="1753.8" font-size="24" text-anchor="middle" textLength="42.4" lengthAdjust="spacingAndGlyphs" fill="#131722" stroke="#131722" stroke-width="0.4">Dec</text>
<text x="796.1" y="1753.8" font-size="24" text-anchor="middle" font-weight="bold" textLength="61.8" lengthAdjust="spacingAndGlyphs" fill="#131722">2025</text>
<text x="966.4" y="1753.8" font-size="24" text-anchor="middle" textLength="40" lengthAdjust="spacingAndGlyphs" fill="#131722" stroke="#131722" stroke-width="0.4">Feb</text>
<text x="1136.7" y="1753.8" font-size="24" text-anchor="middle" textLength="41.8" lengthAdjust="spacingAndGlyphs" fill="#131722" stroke="#131722" stroke-width="0.4">Mar</text>
<text x="1349.6" y="1753.8" font-size="24" text-anchor="middle" textLength="38" lengthAdjust="spacingAndGlyphs" fill="#131722" stroke="#131722" stroke-width="0.4">Apr</text>
<text x="1519.9" y="1753.8" font-size="24" text-anchor="middle" textLength="44.8" lengthAdjust="spacingAndGlyphs" fill="#131722" stroke="#131722" stroke-width="0.4">May</text>
<text x="1690.2" y="1753.8" font-size="24" text-anchor="middle" textLength="39.4" lengthAdjust="spacingAndGlyphs" fill="#131722" stroke="#131722" stroke-width="0.4">Jun</text>
<text x="1903.1" y="1753.8" font-size="24" text-anchor="middle" textLength="31.4" lengthAdjust="spacingAndGlyphs" fill="#131722" stroke="#131722" stroke-width="0.4">Jul</text>
<text x="2073.4" y="1753.8" font-size="24" text-anchor="middle" textLength="42.4" lengthAdjust="spacingAndGlyphs" fill="#131722" stroke="#131722" stroke-width="0.4">Aug</text>
<text x="2243.8" y="1753.8" font-size="24" text-anchor="middle" textLength="41.4" lengthAdjust="spacingAndGlyphs" fill="#131722" stroke="#131722" stroke-width="0.4">Sep</text>
<text x="2456.7" y="1753.8" font-size="24" text-anchor="middle" textLength="39.2" lengthAdjust="spacingAndGlyphs" fill="#131722" stroke="#131722" stroke-width="0.4">Oct</text>
<text x="2627.0" y="1753.8" font-size="24" text-anchor="middle" textLength="42.6" lengthAdjust="spacingAndGlyphs" fill="#131722" stroke="#131722" stroke-width="0.4">Nov</text>
<text x="2797.3" y="1753.8" font-size="24" text-anchor="middle" textLength="42.4" lengthAdjust="spacingAndGlyphs" fill="#131722" stroke="#131722" stroke-width="0.4">Dec</text>
<text x="3010.2" y="1753.8" font-size="24" text-anchor="middle" font-weight="bold" textLength="61.8" lengthAdjust="spacingAndGlyphs" fill="#131722">2026</text>
</g>
<g fill="#131313">
<path d="M24 1816.2 H47.8 V1846 H35.9 V1828.3 H24 Z"/>
<circle cx="57.7" cy="1822.1" r="6"/>
<path d="M68.8 1816.2 H83.9 L71.8 1846 H57.7 Z"/>
</g>
<text x="98.2" y="1845.9" font-size="41.5" font-weight="bold" textLength="242" lengthAdjust="spacingAndGlyphs" fill="#131313">TradingView</text>
</svg>
</body></html>
